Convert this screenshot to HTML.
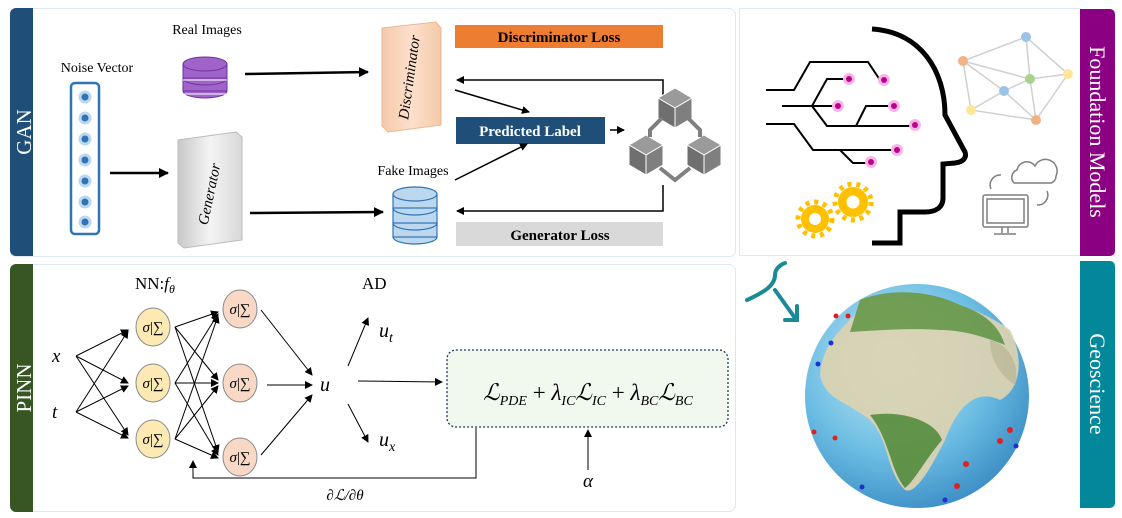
<!DOCTYPE html>
<html><head><meta charset="utf-8"><style>
body{margin:0;background:#fff;width:1122px;height:518px;overflow:hidden}
svg{display:block}
text{font-family:"Liberation Serif",serif}
</style></head><body>
<svg width="1122" height="518" viewBox="0 0 1122 518" xmlns="http://www.w3.org/2000/svg">
<defs>
<marker id="a" markerWidth="8" markerHeight="8" refX="7" refY="4" orient="auto" markerUnits="userSpaceOnUse"><path d="M0,0 L8,4 L0,8 z" fill="#000"/></marker>
<marker id="b" markerWidth="10" markerHeight="10" refX="9" refY="5" orient="auto" markerUnits="userSpaceOnUse"><path d="M0,0 L10,5 L0,10 z" fill="#000"/></marker>
<radialGradient id="g" cx="0.4" cy="0.35" r="0.7"><stop offset="0" stop-color="#c8ebf8"/><stop offset="0.6" stop-color="#6cbde3"/><stop offset="1" stop-color="#3a8cc4"/></radialGradient>
<linearGradient id="gen" x1="0" x2="1"><stop offset="0" stop-color="#c8c8c8"/><stop offset="0.5" stop-color="#f4f4f4"/><stop offset="1" stop-color="#d8d8d8"/></linearGradient>
<linearGradient id="dis" x1="0" x2="1"><stop offset="0" stop-color="#f5c9a8"/><stop offset="0.5" stop-color="#fde0cc"/><stop offset="1" stop-color="#f4caa8"/></linearGradient>
</defs>

<!-- GAN panel -->
<rect x="10.5" y="8.5" width="725" height="248" rx="6" fill="#fff" stroke="#dce8f3"/>
<path d="M16,8 H33 V256 H16 a6,6 0 0 1 -6,-6 V14 a6,6 0 0 1 6,-6z" fill="#1f4e79"/>
<text transform="translate(31,132) rotate(-90)" text-anchor="middle" fill="#fff" font-size="21">GAN</text>
<text x="97" y="72" text-anchor="middle" font-size="14">Noise Vector</text>
<rect x="71" y="83" width="28" height="151" rx="4" fill="#fff" stroke="#2e75b6" stroke-width="2.5"/>
<g fill="#2e75b6" stroke="#bdd7ee" stroke-width="3">
<circle cx="85" cy="97" r="5"/><circle cx="85" cy="118" r="5"/><circle cx="85" cy="139" r="5"/><circle cx="85" cy="160" r="5"/><circle cx="85" cy="181" r="5"/><circle cx="85" cy="202" r="5"/><circle cx="85" cy="222" r="5"/></g>
<line x1="110" y1="173" x2="168" y2="173" stroke="#000" stroke-width="2.5" marker-end="url(#b)"/>
<path d="M178,140 L236,132 L242,137 L242,240 L184,248 L178,243z" fill="url(#gen)" stroke="#bbb"/>
<text transform="translate(214,195) rotate(-78)" text-anchor="middle" font-size="15" font-style="italic">Generator</text>
<text x="207" y="34" text-anchor="middle" font-size="14">Real Images</text>
<g fill="#a064c8" stroke="#7030a0" stroke-width="1">
<ellipse cx="205" cy="91" rx="22" ry="7"/><rect x="183" y="78" width="44" height="13"/><ellipse cx="205" cy="78" rx="22" ry="7"/>
<rect x="183" y="64" width="44" height="14"/><ellipse cx="205" cy="64" rx="22" ry="7"/></g>
<line x1="183" y1="80" x2="227" y2="80" stroke="#fff"/><line x1="183" y1="94" x2="227" y2="94" stroke="#fff"/>
<line x1="245" y1="74" x2="368" y2="72" stroke="#000" stroke-width="2.5" marker-end="url(#b)"/>
<path d="M382,28 L436,22 L441,28 L441,125 L388,132 L382,126z" fill="url(#dis)" stroke="#e8b898"/>
<text transform="translate(414,78) rotate(-82)" text-anchor="middle" font-size="15" font-style="italic">Discriminator</text>
<rect x="455" y="25" width="208" height="23" fill="#ed7d31"/>
<text x="559" y="42" text-anchor="middle" font-size="15" font-weight="bold">Discriminator Loss</text>
<polyline points="663,115 663,80 457,80" fill="none" stroke="#000" stroke-width="1.5" marker-end="url(#a)"/>
<line x1="455" y1="90" x2="529" y2="112" stroke="#000" stroke-width="1.5" marker-end="url(#a)"/>
<rect x="456" y="117" width="149" height="27" fill="#1f4e79"/>
<text x="530" y="136" text-anchor="middle" font-size="15" font-weight="bold" fill="#fff">Predicted Label</text>
<line x1="610" y1="130" x2="624" y2="130" stroke="#000" stroke-width="1.5" marker-end="url(#a)"/>
<!-- cubes icon -->
<g fill="#7f7f7f" stroke="#fff" stroke-width="1">
<path d="M675,88 L692,98 L675,108 L658,98z" fill="#9a9a9a"/><path d="M658,98 L675,108 L675,128 L658,118z" fill="#6f6f6f"/><path d="M692,98 L675,108 L675,128 L692,118z"/>
<path d="M646,135 L663,145 L646,155 L629,145z" fill="#9a9a9a"/><path d="M629,145 L646,155 L646,175 L629,165z" fill="#6f6f6f"/><path d="M663,145 L646,155 L646,175 L663,165z"/>
<path d="M704,135 L721,145 L704,155 L687,145z" fill="#9a9a9a"/><path d="M687,145 L704,155 L704,175 L687,165z" fill="#6f6f6f"/><path d="M721,145 L704,155 L704,175 L721,165z"/>
</g>
<g fill="none" stroke="#7f7f7f" stroke-width="4"><path d="M662,118 L650,130 L650,137"/><path d="M688,118 L700,130 L700,137"/><path d="M660,168 L675,180 L690,168"/></g>
<text x="413" y="175" text-anchor="middle" font-size="14">Fake Images</text>
<g fill="#bdd7ee" stroke="#2e75b6" stroke-width="1.2">
<ellipse cx="415" cy="237" rx="22" ry="7"/><rect x="393" y="223" width="44" height="14"/><ellipse cx="415" cy="223" rx="22" ry="7"/>
<rect x="393" y="208" width="44" height="15"/><ellipse cx="415" cy="208" rx="22" ry="7"/>
<rect x="393" y="194" width="44" height="14"/><ellipse cx="415" cy="194" rx="22" ry="7"/></g>
<line x1="250" y1="213" x2="383" y2="212" stroke="#000" stroke-width="2.5" marker-end="url(#b)"/>
<line x1="455" y1="180" x2="527" y2="144" stroke="#000" stroke-width="1.5" marker-end="url(#a)"/>
<polyline points="663,185 663,211 457,211" fill="none" stroke="#000" stroke-width="1.5" marker-end="url(#a)"/>
<rect x="456" y="222" width="207" height="24" fill="#d9d9d9"/>
<text x="560" y="240" text-anchor="middle" font-size="15" font-weight="bold">Generator Loss</text>

<!-- PINN panel -->
<rect x="10.5" y="264.5" width="725" height="247" rx="6" fill="#fff" stroke="#dce8f3"/>
<path d="M16,264 H33 V512 H16 a6,6 0 0 1 -6,-6 V270 a6,6 0 0 1 6,-6z" fill="#375623"/>
<text transform="translate(31,388) rotate(-90)" text-anchor="middle" fill="#fff" font-size="21">PINN</text>
<text x="135" y="289" font-size="17">NN:<tspan font-style="italic">f</tspan><tspan font-size="12" font-style="italic" dy="4">θ</tspan></text>
<text x="362" y="289" font-size="17">AD</text>
<text x="52" y="362" font-size="19" font-style="italic">x</text>
<text x="52" y="418" font-size="19" font-style="italic">t</text>
<g stroke="#000" stroke-width="1" marker-end="url(#a)">
<line x1="76" y1="356" x2="128" y2="330"/><line x1="76" y1="356" x2="128" y2="383"/><line x1="76" y1="356" x2="128" y2="435"/>
<line x1="76" y1="412" x2="128" y2="331"/><line x1="76" y1="412" x2="128" y2="386"/><line x1="76" y1="412" x2="128" y2="438"/>
<line x1="175" y1="327" x2="218" y2="312"/><line x1="175" y1="327" x2="218" y2="380"/><line x1="175" y1="327" x2="218" y2="452"/>
<line x1="175" y1="383" x2="218" y2="314"/><line x1="175" y1="383" x2="218" y2="383"/><line x1="175" y1="383" x2="218" y2="455"/>
<line x1="175" y1="439" x2="218" y2="316"/><line x1="175" y1="439" x2="218" y2="386"/><line x1="175" y1="439" x2="218" y2="458"/>
<line x1="261" y1="310" x2="312" y2="375"/><line x1="267" y1="385" x2="312" y2="385"/><line x1="261" y1="455" x2="312" y2="395"/>
<line x1="348" y1="366" x2="368" y2="318"/><line x1="348" y1="404" x2="368" y2="442"/>
<line x1="358" y1="381" x2="442" y2="382"/>
<line x1="588" y1="470" x2="588" y2="430"/>
</g>
<g stroke="#8a8a8a" stroke-width="1">
<ellipse cx="153" cy="327" rx="17" ry="19" fill="#fde9b3"/><ellipse cx="153" cy="383" rx="17" ry="19" fill="#fde9b3"/><ellipse cx="153" cy="439" rx="17" ry="19" fill="#fde9b3"/>
<ellipse cx="240" cy="309" rx="17" ry="19" fill="#f9d9c5"/><ellipse cx="240" cy="383" rx="17" ry="19" fill="#f9d9c5"/><ellipse cx="240" cy="457" rx="17" ry="19" fill="#f9d9c5"/>
</g>
<g font-size="15" text-anchor="middle"><text x="153" y="332"><tspan font-style="italic">σ</tspan>|∑</text><text x="153" y="388"><tspan font-style="italic">σ</tspan>|∑</text><text x="153" y="444"><tspan font-style="italic">σ</tspan>|∑</text>
<text x="240" y="314"><tspan font-style="italic">σ</tspan>|∑</text><text x="240" y="388"><tspan font-style="italic">σ</tspan>|∑</text><text x="240" y="462"><tspan font-style="italic">σ</tspan>|∑</text></g>
<text x="320" y="391" font-size="20" font-style="italic">u</text>
<text x="379" y="337" font-size="20" font-style="italic">u<tspan font-size="14" dy="5">t</tspan></text>
<text x="379" y="446" font-size="20" font-style="italic">u<tspan font-size="14" dy="5">x</tspan></text>
<rect x="447" y="350" width="281" height="77" rx="9" fill="#f1f8ee" stroke="#1f3864" stroke-width="1.3" stroke-dasharray="2,2"/>
<text x="588" y="400" text-anchor="middle" font-size="23"><tspan font-style="italic">ℒ</tspan><tspan font-size="14" font-style="italic" dy="5">PDE</tspan><tspan dy="-5"> + </tspan><tspan font-style="italic">λ</tspan><tspan font-size="14" font-style="italic" dy="5">IC</tspan><tspan font-style="italic" dy="-5">ℒ</tspan><tspan font-size="14" font-style="italic" dy="5">IC</tspan><tspan dy="-5"> + </tspan><tspan font-style="italic">λ</tspan><tspan font-size="14" font-style="italic" dy="5">BC</tspan><tspan font-style="italic" dy="-5">ℒ</tspan><tspan font-size="14" font-style="italic" dy="5">BC</tspan></text>
<polyline points="476,428 476,478 193,478 193,461" fill="none" stroke="#000" stroke-width="1" marker-end="url(#a)"/>
<text x="345" y="500" text-anchor="middle" font-size="15" font-style="italic">∂ℒ/∂θ</text>
<text x="588" y="487" text-anchor="middle" font-size="19" font-style="italic">α</text>

<!-- Foundation Models panel -->
<rect x="739.5" y="8.5" width="341" height="247" fill="#fff" stroke="#dce8f3"/>
<path d="M1080,9 H1110 a5,5 0 0 1 5,5 V251 a5,5 0 0 1 -5,5 H1080z" fill="#8b0083"/>
<text transform="translate(1090,132) rotate(90)" text-anchor="middle" fill="#fff" font-size="22">Foundation Models</text>
<path d="M872,29 C920,32 945,70 945,115 L965,152 C967,158 963,162 955,163 L943,164 L943,198 C943,208 935,212 925,212 L900,212 L900,243 L872,243" fill="none" stroke="#000" stroke-width="5"/>
<g fill="none" stroke="#000" stroke-width="2">
<path d="M766,90 H794 L810,62 H868 L880,80"/><path d="M782,106 H812 L827,79 H848"/><path d="M812,106 L827,126 H915"/><path d="M812,106 H838"/><path d="M856,126 L866,106 H893"/>
<path d="M766,124 H794 L813,150 H897"/><path d="M840,150 L853,163 H870"/></g>
<g fill="#c0008c" stroke="#f7b6e8" stroke-width="3">
<circle cx="849" cy="79" r="4.5"/><circle cx="884" cy="80" r="4.5"/><circle cx="838" cy="106" r="4.5"/><circle cx="894" cy="106" r="4.5"/><circle cx="915" cy="125" r="4.5"/><circle cx="897" cy="150" r="4.5"/><circle cx="871" cy="162" r="4.5"/></g>
<g fill="#ffc000"><circle cx="815" cy="219" r="14"/><circle cx="853" cy="202" r="15"/>
<g stroke="#ffc000" stroke-width="5" stroke-dasharray="4,4.8"><circle cx="815" cy="219" r="17" fill="none"/><circle cx="853" cy="202" r="18" fill="none"/></g>
<circle cx="815" cy="219" r="6" fill="#fff"/><circle cx="853" cy="202" r="6.5" fill="#fff"/></g>
<g stroke="#d0d0d0" stroke-width="1.5" fill="none"><path d="M963,61 L1026,37 L1068,74 L1036,120 L971,110z M963,61 L1030,79 L1068,74 M1026,37 L1030,79 L1036,120 M963,61 L1004,91 L1036,120 M971,110 L1004,91 L1030,79"/></g>
<g><circle cx="963" cy="61" r="5" fill="#f4b183"/><circle cx="1026" cy="37" r="5" fill="#9dc3e6"/><circle cx="1068" cy="74" r="5" fill="#ffe699"/><circle cx="1036" cy="120" r="5" fill="#f4b183"/><circle cx="971" cy="110" r="5" fill="#ffe699"/><circle cx="1030" cy="79" r="5" fill="#a9d18e"/><circle cx="1004" cy="91" r="5" fill="#9dc3e6"/></g>
<g fill="none" stroke="#7f7f7f" stroke-width="1.5">
<rect x="983" y="195" width="45" height="32" rx="2"/><rect x="987" y="199" width="37" height="24"/><path d="M1002,227 V233 M1008,227 V233 M994,234 H1016"/>
<path d="M1014,183 a8,8 0 0 1 3,-13 a10,10 0 0 1 18,-4 a8,8 0 0 1 21,10 a7,7 0 0 1 -5,7 z"/>
<path d="M991,189 a10,10 0 0 1 10,-14"/><path d="M1047,191 a10,10 0 0 1 -10,14"/></g>

<!-- Geoscience -->
<path d="M1080,261 H1110 a5,5 0 0 1 5,5 V503 a5,5 0 0 1 -5,5 H1080z" fill="#03879a"/>
<text transform="translate(1090,384) rotate(90)" text-anchor="middle" fill="#fff" font-size="22">Geoscience</text>
<path d="M747,300 C765,292 775,285 775,275 C775,268 782,264 785,263 M775,290 L795,318 M785,320 L797,320 L797,306" fill="none" stroke="#1a8a96" stroke-width="4" stroke-linecap="round"/>
<circle cx="917" cy="396" r="112" fill="url(#g)"/>
<g opacity="0.92">
<path d="M860,310 C900,290 960,295 1010,330 C1025,360 1020,390 1000,400 C980,390 960,400 945,440 C930,470 915,495 905,490 C885,470 890,440 870,420 C845,400 825,400 820,375 C822,345 840,330 860,310z" fill="#dcd3b2"/>
<path d="M860,300 C890,288 930,290 960,305 C990,315 1000,330 1005,345 C980,335 960,330 940,330 C915,328 880,330 850,332z" fill="#6f9a48"/>
<path d="M870,415 C900,410 935,420 942,440 C925,460 915,480 905,488 C890,470 890,440 870,415z" fill="#5f8f3d"/>
<path d="M990,340 C1010,345 1020,365 1015,385 C1000,375 990,360 990,340z" fill="#c9bf9a"/>
</g>
<g fill="#e02020"><circle cx="836" cy="316" r="2.5"/><circle cx="848" cy="316" r="2.5"/><circle cx="814" cy="432" r="2.5"/><circle cx="835" cy="438" r="2.5"/><circle cx="1010" cy="430" r="3"/><circle cx="1000" cy="441" r="3"/><circle cx="966" cy="464" r="3"/><circle cx="957" cy="486" r="3"/></g>
<g fill="#2030d0"><circle cx="831" cy="343" r="2.5"/><circle cx="818" cy="364" r="2.5"/><circle cx="862" cy="487" r="2.5"/><circle cx="1016" cy="446" r="2.5"/><circle cx="945" cy="500" r="2.5"/></g>
</svg>
</body></html>
